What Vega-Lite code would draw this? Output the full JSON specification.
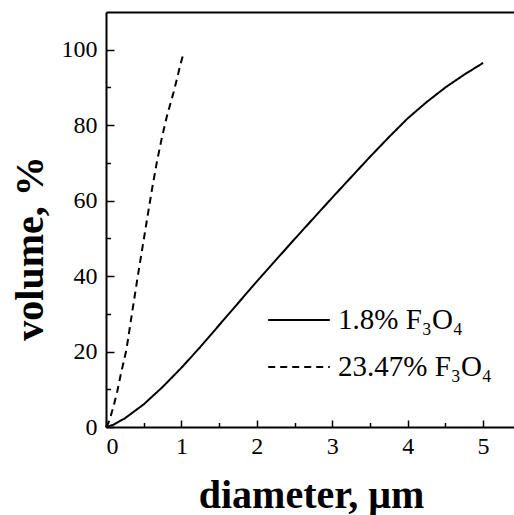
{
  "$schema": "https://vega.github.io/schema/vega-lite/v6.json",
  "autosize": {"type": "none"},
  "width": 408,
  "height": 415,
  "padding": {"left": 106, "top": 12, "right": 0, "bottom": 88},
  "background": "white",
  "config": {
    "view": {"stroke": null},
    "axis": {"labelFont": "Liberation Serif", "labelFontSize": 24, "labelColor": "black", "domainColor": "black", "domainWidth": 2, "tickColor": "black", "tickWidth": 1.5, "grid": false, "titleFont": "Liberation Serif", "titleFontWeight": "bold", "titleFontSize": 40, "titleColor": "black"}
  },
  "data": {"values": [
    {"d": 0, "v": 0, "s": "1.8% F₃O₄"},
    {"d": 0.1, "v": 0.6, "s": "1.8% F₃O₄"},
    {"d": 0.25, "v": 2.3, "s": "1.8% F₃O₄"},
    {"d": 0.5, "v": 6.0, "s": "1.8% F₃O₄"},
    {"d": 0.75, "v": 10.6, "s": "1.8% F₃O₄"},
    {"d": 1.0, "v": 15.7, "s": "1.8% F₃O₄"},
    {"d": 1.25, "v": 21.2, "s": "1.8% F₃O₄"},
    {"d": 1.5, "v": 27.0, "s": "1.8% F₃O₄"},
    {"d": 1.75, "v": 32.8, "s": "1.8% F₃O₄"},
    {"d": 2.0, "v": 38.6, "s": "1.8% F₃O₄"},
    {"d": 2.25, "v": 44.2, "s": "1.8% F₃O₄"},
    {"d": 2.5, "v": 49.8, "s": "1.8% F₃O₄"},
    {"d": 2.75, "v": 55.3, "s": "1.8% F₃O₄"},
    {"d": 3.0, "v": 60.8, "s": "1.8% F₃O₄"},
    {"d": 3.25, "v": 66.2, "s": "1.8% F₃O₄"},
    {"d": 3.5, "v": 71.6, "s": "1.8% F₃O₄"},
    {"d": 3.75, "v": 76.8, "s": "1.8% F₃O₄"},
    {"d": 4.0, "v": 81.8, "s": "1.8% F₃O₄"},
    {"d": 4.25, "v": 86.1, "s": "1.8% F₃O₄"},
    {"d": 4.5, "v": 90.0, "s": "1.8% F₃O₄"},
    {"d": 4.75, "v": 93.4, "s": "1.8% F₃O₄"},
    {"d": 5.0, "v": 96.5, "s": "1.8% F₃O₄"},
    {"d": 0, "v": 0, "s": "23.47% F₃O₄"},
    {"d": 0.03, "v": 1.0, "s": "23.47% F₃O₄"},
    {"d": 0.06, "v": 2.7, "s": "23.47% F₃O₄"},
    {"d": 0.1, "v": 5.5, "s": "23.47% F₃O₄"},
    {"d": 0.15, "v": 9.5, "s": "23.47% F₃O₄"},
    {"d": 0.2, "v": 14.3, "s": "23.47% F₃O₄"},
    {"d": 0.27, "v": 20.4, "s": "23.47% F₃O₄"},
    {"d": 0.35, "v": 30.8, "s": "23.47% F₃O₄"},
    {"d": 0.42, "v": 39.8, "s": "23.47% F₃O₄"},
    {"d": 0.5, "v": 49.6, "s": "23.47% F₃O₄"},
    {"d": 0.565, "v": 57.6, "s": "23.47% F₃O₄"},
    {"d": 0.61, "v": 63.0, "s": "23.47% F₃O₄"},
    {"d": 0.676, "v": 70.4, "s": "23.47% F₃O₄"},
    {"d": 0.742, "v": 76.8, "s": "23.47% F₃O₄"},
    {"d": 0.809, "v": 82.5, "s": "23.47% F₃O₄"},
    {"d": 0.897, "v": 88.8, "s": "23.47% F₃O₄"},
    {"d": 0.95, "v": 93.0, "s": "23.47% F₃O₄"},
    {"d": 0.985, "v": 96.0, "s": "23.47% F₃O₄"},
    {"d": 1.029, "v": 99.1, "s": "23.47% F₃O₄"}
  ]},
  "layer": [
    {
      "mark": {"type": "line", "color": "black", "strokeWidth": 2},
      "encoding": {
        "x": {"field": "d", "type": "quantitative", "scale": {"domain": [0, 5.41], "nice": false, "zero": false},
          "axis": {"values": [0, 1, 2, 3, 4, 5], "tickSize": -7, "labelPadding": 14, "format": "d", "title": "diameter, μm", "titleX": 205, "titleY": 80, "titleBaseline": "alphabetic", "titleAnchor": null, "titleAlign": "center"}},
        "y": {"field": "v", "type": "quantitative", "scale": {"domain": [0, 110], "nice": false},
          "axis": {"values": [0, 20, 40, 60, 80, 100], "tickSize": -8, "labelPadding": 17, "title": "volume, %", "titleX": -64, "titleY": 236, "titleBaseline": "alphabetic", "titleAngle": -90, "titleAlign": "center"}},
        "strokeDash": {"field": "s", "type": "nominal",
          "scale": {"domain": ["1.8% F₃O₄", "23.47% F₃O₄"], "range": [[1, 0], [7, 5]]},
          "legend": {"orient": "none", "legendX": 161, "legendY": 276, "title": null, "symbolType": "stroke", "symbolSize": 3795, "symbolStrokeWidth": 2, "symbolStrokeColor": "black", "labelFont": "Liberation Serif", "labelFontSize": 29, "labelColor": "black", "labelOffset": 7, "labelLimit": 0, "rowPadding": -4,
            "encode": {"symbols": {"update": {"strokeDash": {"signal": "datum.value === '23.47% F₃O₄' ? [10, 6] : [1, 0]"}}}}}}
      }
    },
    {
      "mark": {"type": "line", "strokeOpacity": 0},
      "encoding": {
        "x": {"field": "d", "type": "quantitative", "axis": {"orient": "bottom", "values": [0.5, 1.5, 2.5, 3.5, 4.5], "labels": false, "domain": false, "tickSize": -4.5, "title": null}},
        "y": {"field": "v", "type": "quantitative", "axis": {"orient": "left", "values": [10, 30, 50, 70, 90], "labels": false, "domain": false, "tickSize": -4.5, "title": null}},
        "detail": {"field": "s"}
      }
    },
    {
      "mark": {"type": "line", "strokeOpacity": 0},
      "encoding": {
        "x": {"field": "d", "type": "quantitative", "axis": {"orient": "top", "labels": false, "ticks": false, "domain": true, "title": null}},
        "detail": {"field": "s"}
      }
    }
  ],
  "resolve": {"axis": {"x": "independent", "y": "independent"}}
}
